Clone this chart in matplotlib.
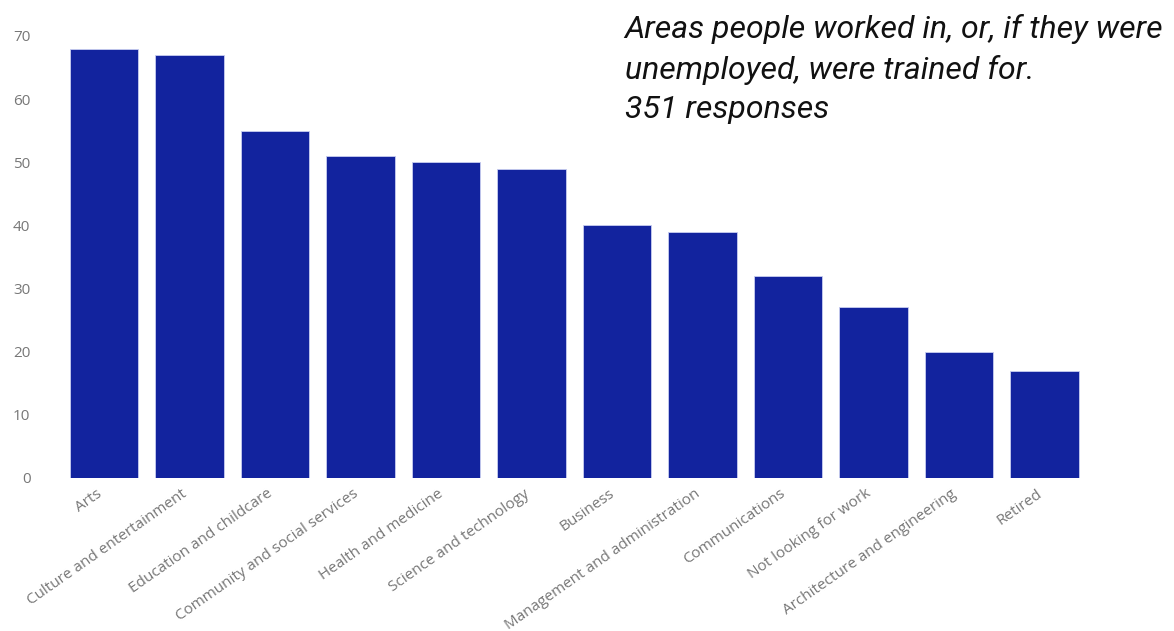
import matplotlib
matplotlib.use("Agg")
import matplotlib.pyplot as plt
from matplotlib.transforms import ScaledTranslation

# 每个领域的回答数
categories = [
	"Arts",
	"Culture and entertainment",
	"Education and childcare",
	"Community and social services",
	"Health and medicine",
	"Science and technology",
	"Business",
	"Management and administration",
	"Communications",
	"Not looking for work",
	"Architecture and engineering",
	"Retired",
]
counts = [68, 67, 55, 51, 50, 49, 40, 39, 32, 27, 20, 17]
y_ticks = [0, 10, 20, 30, 40, 50, 60, 70]

title_lines = [
	"Areas people worked in, or, if they were",
	"unemployed, were trained for.",
	"351 responses",
]

fig = plt.figure(figsize=(11.74, 6.31), dpi=100)
ax = fig.add_axes([0.052, 0.2425, 0.874, 0.7005])

x = range(len(categories))
ax.bar(x, counts, width=0.8, color="#12239E", edgecolor="#c8cdf0", linewidth=0.6)

ax.set_xlim(-0.5, len(categories) - 0.5)
ax.set_ylim(0, 70)
ax.set_yticks(y_ticks)
ax.set_yticklabels([str(t) for t in y_ticks], fontsize=11, color="#777777", family="Open Sans")
ax.set_xticks(list(x))
ax.set_xticklabels(categories, rotation=35, ha="right", rotation_mode="anchor",
				   fontsize=11, color="#777777", family="Open Sans")
ax.tick_params(axis="both", length=0)
ax.tick_params(axis="y", pad=22)
ax.tick_params(axis="x", pad=6)
for s in ax.spines.values():
	s.set_visible(False)

# 标签整体往左挪一点
shift = ScaledTranslation(-8 / 100, 0, fig.dpi_scale_trans)
for lbl in ax.get_xticklabels():
	lbl.set_transform(lbl.get_transform() + shift)

fig.text(0.532, 0.978, "\n".join(title_lines), ha="left", va="top",
		 fontsize=23, style="italic", family="Roboto", color="#111111",
		 linespacing=1.45)

fig.savefig("out.png", dpi=100)
